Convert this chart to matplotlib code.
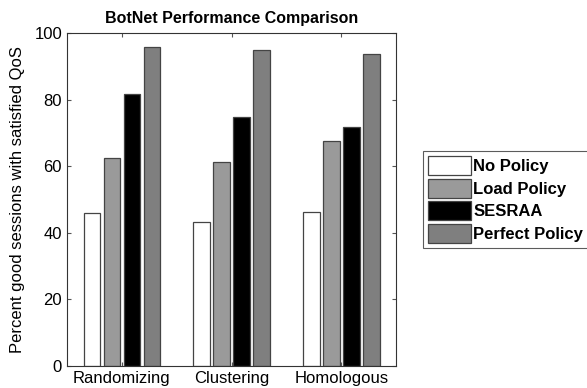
import numpy as np
import matplotlib
matplotlib.use('Agg')
import matplotlib.pyplot as plt

plt.rcParams['font.family'] = ['Liberation Sans', 'DejaVu Sans']

groups = ['Randomizing', 'Clustering', 'Homologous']
series = ['No Policy', 'Load Policy', 'SESRAA', 'Perfect Policy']
no_policy = [45.9, 43.2, 46.2]
load_policy = [62.4, 61.3, 67.6]
sesraa = [81.7, 74.8, 71.8]
perfect_policy = [95.8, 94.9, 93.7]
colors = ['#ffffff', '#9a9a9a', '#000000', '#7f7f7f']

fig = plt.figure(figsize=(5.87, 3.88), dpi=100)
ax = fig.add_axes([0.114, 0.057, 0.561, 0.858])

x = np.arange(1, len(groups) + 1)
step = 0.182
width = 0.15
for i, (vals, c, name) in enumerate(zip([no_policy, load_policy, sesraa, perfect_policy], colors, series)):
    ax.bar(x + (i - 1.5) * step, vals, width, color=c, edgecolor='#444444', linewidth=0.9, label=name)

ax.set_xlim(0.5, 3.5)
ax.set_ylim(0, 100)
ax.set_xticks(x)
ax.set_xticklabels(groups, fontsize=12)
ax.set_yticks([0, 20, 40, 60, 80, 100])
ax.tick_params(axis='y', labelsize=12)
ax.tick_params(direction='in', length=3, top=True, right=True, color='#555555')
for s in ax.spines.values():
    s.set_color('#333333')
    s.set_linewidth(0.8)
ax.set_ylabel('Percent good sessions with satisfied QoS', fontsize=12, labelpad=7)
ax.set_title('BotNet Performance Comparison', fontsize=11.5, fontweight='bold', pad=7)

leg = ax.legend(loc='center left', bbox_to_anchor=(1.065, 0.5),
                prop={'weight': 'bold', 'size': 12}, fancybox=False, edgecolor='#333333',
                handlelength=2.6, handleheight=1.4, handletextpad=0.15, labelspacing=0.2,
                borderpad=0.3, borderaxespad=0.3)
leg.get_frame().set_linewidth(0.8)

plt.savefig('out.png', dpi=100)
